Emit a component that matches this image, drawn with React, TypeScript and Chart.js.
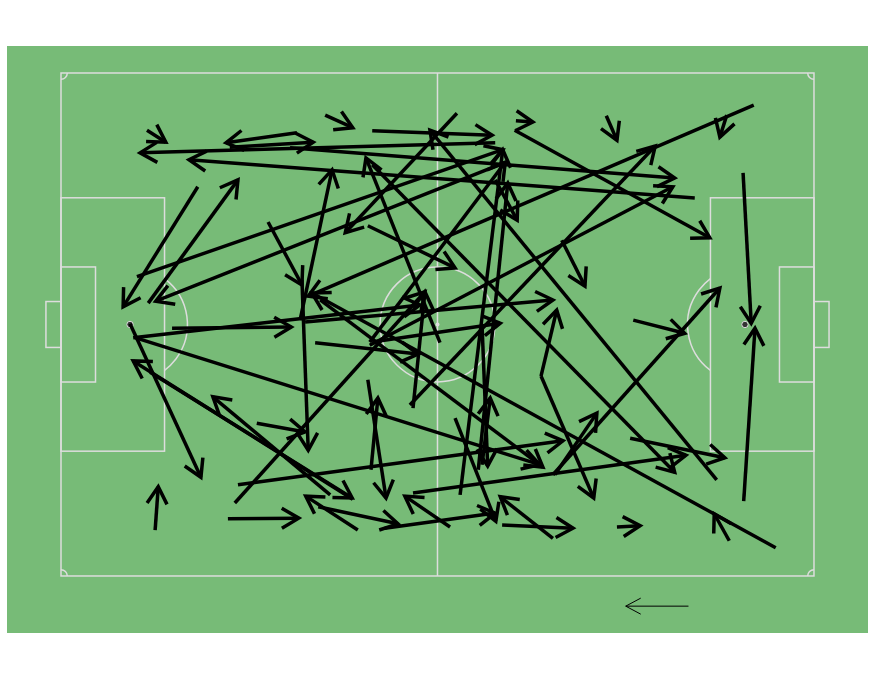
import { useEffect, useRef } from 'react';
import { Chart, registerables, ChartConfiguration, Plugin } from 'chart.js';

Chart.register(...registerables);

// passes in pitch coordinates (120 x 80, y runs down the page)
const startX = [
  13.7, 69.2, 101.0, 37.6, 26.9, 42.1, 49.6, 72.5, 86.9, 110.4, 106.1, 72.3,
  36.5, 49.2, 55.6, 21.8, 13.9, 70.8, 12.1, 33.0, 38.1, 38.4, 17.7, 38.9,
  113.9, 11.8, 11.0, 46.5, 14.2, 42.9, 15.0, 26.6, 27.7, 28.2, 31.2, 47.3,
  41.0, 51.6, 62.0, 56.1, 62.8, 63.6, 70.3, 78.4, 88.6, 106.5, 108.8, 108.7,
  91.2, 78.4, 78.7, 104.5, 49.6, 79.8, 76.5, 76.5, 48.9, 49.4, 67.1, 67.1,
  69.2, 40.5, 60.4, 63.1, 48.9, 49.6, 11.5, 49.2, 41.3, 90.7, 56.1, 66.5,
];
const startY = [
  9.1, 11.1, 19.9, 9.5, 11.8, 6.7, 9.2, 7.6, 6.8, 5.1, 6.7, 9.1,
  11.9, 43.3, 52.8, 18.1, 36.6, 14.2, 32.4, 23.7, 39.3, 32.9, 40.6, 39.6,
  75.5, 42.1, 39.9, 67.8, 47.6, 67.1, 72.7, 70.9, 68.4, 65.5, 55.7, 72.7,
  69.0, 72.4, 72.2, 66.8, 54.9, 67.1, 71.9, 74.0, 72.2, 74.4, 68.1, 15.9,
  39.3, 63.9, 63.9, 64.7, 14.6, 26.6, 48.2, 48.2, 48.8, 63.1, 62.3, 40.1,
  17.0, 42.9, 42.9, 6.4, 24.3, 42.8, 42.1, 42.8, 36.1, 58.1, 53.3, 63.1,
];
const endX = [
  16.7, 12.6, 20.4, 26.3, 40.2, 46.5, 68.7, 75.2, 88.6, 39.4, 105.0, 103.4,
  97.8, 97.5, 94.7, 9.9, 28.2, 15.1, 70.4, 38.4, 43.2, 39.4, 36.7, 78.4,
  40.0, 76.3, 22.3, 11.5, 46.4, 24.2, 15.5, 37.9, 58.0, 80.0, 38.9, 39.0,
  53.7, 69.2, 54.8, 99.6, 69.3, 70.4, 81.6, 70.0, 92.3, 104.1, 110.6, 110.0,
  99.4, 105.0, 85.4, 58.8, 97.8, 83.5, 79.0, 84.9, 51.8, 50.5, 68.4, 68.0,
  72.7, 56.9, 48.6, 45.3, 62.8, 70.0, 57.2, 70.8, 76.8, 105.8, 58.0, 71.2,
];
const endY = [
  11.0, 12.7, 13.8, 11.1, 11.0, 8.7, 9.9, 7.8, 10.7, 35.5, 10.2, 26.2,
  16.7, 18.1, 11.6, 37.2, 17.0, 36.3, 12.2, 33.7, 15.4, 60.0, 40.4, 36.1,
  35.0, 62.3, 64.3, 45.8, 67.6, 51.5, 65.8, 70.8, 34.8, 58.5, 57.1, 67.3,
  71.7, 70.0, 67.3, 60.8, 71.3, 12.2, 72.4, 67.4, 72.0, 70.1, 40.6, 39.8,
  41.4, 34.2, 54.1, 9.1, 63.5, 33.9, 37.7, 67.6, 67.6, 51.7, 51.7, 62.5,
  23.4, 44.7, 13.5, 25.4, 31.0, 39.8, 36.9, 14.2, 62.7, 61.2, 34.8, 17.5,
];

// attacking direction arrow under the pitch
const directionX = [100, 90];
const directionY = [84.8, 84.8];

const GRASS = '#77bb77';
const LINE = '#dddddd';
const PASS = '#000000';

const pitchPlugin: Plugin<'scatter'> = {
  id: 'pitch',
  beforeDatasetsDraw(chart) {
    const { ctx, chartArea: a, scales } = chart;
    const px = (v: number) => scales.x.getPixelForValue(v);
    const py = (v: number) => scales.y.getPixelForValue(v);
    const unit = px(1) - px(0);

    ctx.save();
    ctx.fillStyle = GRASS;
    ctx.fillRect(a.left, a.top, a.right - a.left, a.bottom - a.top);

    ctx.strokeStyle = LINE;
    ctx.lineWidth = 1.5;
    const rect = (x0: number, y0: number, x1: number, y1: number) =>
      ctx.strokeRect(px(x0), py(y0), px(x1) - px(x0), py(y1) - py(y0));
    const arc = (cx: number, cy: number, r: number, a0: number, a1: number) => {
      ctx.beginPath();
      ctx.arc(px(cx), py(cy), r * unit, a0, a1);
      ctx.stroke();
    };

    rect(0, 0, 120, 80);
    ctx.beginPath();
    ctx.moveTo(px(60), py(0));
    ctx.lineTo(px(60), py(80));
    ctx.stroke();
    arc(60, 40, 9.15, 0, Math.PI * 2);

    rect(0, 19.85, 16.5, 60.15);
    rect(103.5, 19.85, 120, 60.15);
    rect(0, 30.85, 5.5, 49.15);
    rect(114.5, 30.85, 120, 49.15);
    rect(-2.4, 36.35, 0, 43.65);
    rect(120, 36.35, 122.4, 43.65);

    const t = Math.acos(5.5 / 9.15);
    arc(11, 40, 9.15, -t, t);
    arc(109, 40, 9.15, Math.PI - t, Math.PI + t);

    arc(0, 0, 1, 0, Math.PI / 2);
    arc(120, 0, 1, Math.PI / 2, Math.PI);
    arc(0, 80, 1, -Math.PI / 2, 0);
    arc(120, 80, 1, Math.PI, Math.PI * 1.5);

    ctx.fillStyle = '#333333';
    ctx.lineWidth = 1;
    [11, 109].forEach((sx) => {
      ctx.beginPath();
      ctx.arc(px(sx), py(40), 3.2, 0, Math.PI * 2);
      ctx.fill();
      ctx.stroke();
    });
    ctx.beginPath();
    ctx.fillStyle = LINE;
    ctx.arc(px(60), py(40), 2, 0, Math.PI * 2);
    ctx.fill();
    ctx.restore();
  },
};

function drawHead(ctx: CanvasRenderingContext2D, x0: number, y0: number, x1: number, y1: number, back: number, side: number) {
  const len = Math.hypot(x1 - x0, y1 - y0) || 1;
  const ux = (x1 - x0) / len;
  const uy = (y1 - y0) / len;
  ctx.beginPath();
  ctx.moveTo(x1 - ux * back - uy * side, y1 - uy * back + ux * side);
  ctx.lineTo(x1, y1);
  ctx.lineTo(x1 - ux * back + uy * side, y1 - uy * back - ux * side);
  ctx.stroke();
}

const headPlugin: Plugin<'scatter'> = {
  id: 'heads',
  afterDatasetsDraw(chart) {
    const { ctx, scales } = chart;
    const px = (v: number) => scales.x.getPixelForValue(v);
    const py = (v: number) => scales.y.getPixelForValue(v);
    ctx.save();
    ctx.strokeStyle = PASS;
    ctx.lineWidth = 3.5;
    ctx.lineJoin = 'miter';
    ctx.lineCap = 'butt';
    startX.forEach((_, i) => {
      drawHead(ctx, px(startX[i]), py(startY[i]), px(endX[i]), py(endY[i]), 17, 10);
    });

    // direction of play
    ctx.lineWidth = 1;
    ctx.beginPath();
    ctx.moveTo(px(directionX[0]), py(directionY[0]));
    ctx.lineTo(px(directionX[1]), py(directionY[1]));
    ctx.stroke();
    drawHead(ctx, px(directionX[0]), py(directionY[0]), px(directionX[1]), py(directionY[1]), 15, 8);
    ctx.restore();
  },
};

export default function App() {
  const canvasRef = useRef<HTMLCanvasElement | null>(null);

  useEffect(() => {
    if (!canvasRef.current) return;

    const config: ChartConfiguration<'scatter'> = {
      type: 'scatter',
      data: {
        datasets: startX.map((_, i) => ({
          data: [
            { x: startX[i], y: startY[i] },
            { x: endX[i], y: endY[i] },
          ],
          showLine: true,
          borderColor: PASS,
          borderWidth: 3.5,
          borderCapStyle: 'butt' as const,
          pointRadius: 0,
          pointHoverRadius: 0,
        })),
      },
      options: {
        animation: false,
        responsive: false,
        layout: { padding: { left: 7, right: 7, top: 46, bottom: 47 } },
        scales: {
          x: { type: 'linear', display: false, min: -8.606, max: 128.61 },
          y: { type: 'linear', display: false, reverse: true, min: -4.294, max: 89.07 },
        },
        plugins: {
          legend: { display: false },
          tooltip: { enabled: false },
        },
      },
      plugins: [pitchPlugin, headPlugin],
    };

    const chart = new Chart(canvasRef.current, config);
    return () => {
      chart.destroy();
    };
  }, []);

  return (
    <div style={{ position: 'absolute', left: 0, top: 0, width: 875, height: 680, background: '#ffffff' }}>
      <canvas ref={canvasRef} width={875} height={680}></canvas>
    </div>
  );
}
